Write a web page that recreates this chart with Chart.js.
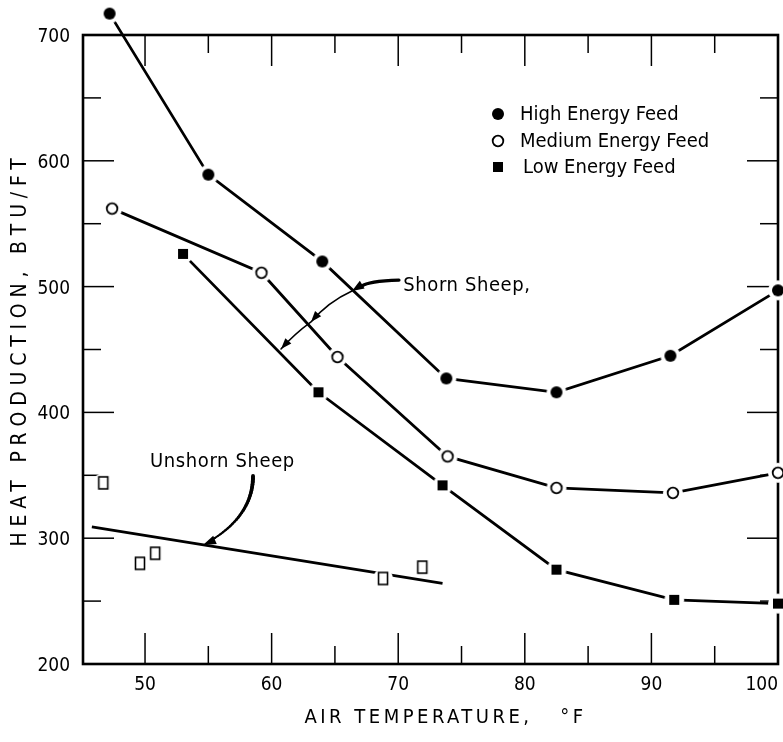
<!DOCTYPE html>
<html>
<head>
<meta charset="utf-8">
<script src="https://cdn.jsdelivr.net/npm/chart.js@4/dist/chart.umd.min.js"></script>
<style>
html,body{margin:0;padding:0;background:#fff;}
canvas{display:block;}
</style>
</head>
<body>
<canvas id="c" width="783" height="742"></canvas>
<script>
// ---------------- data ----------------
const highTemp = [47.2, 55.0, 64.0, 73.8, 82.5, 91.5, 100];
const highHeat = [717, 589, 520, 427, 416, 445, 497];

const mediumTemp = [47.4, 59.2, 65.2, 73.9, 82.5, 91.7, 100];
const mediumHeat = [562, 511, 444, 365, 340, 336, 352];

const lowTemp = [53.0, 63.7, 73.5, 82.5, 91.8, 100];
const lowHeat = [526, 416, 342, 275, 251, 248];

const unshornTemp = [46.7, 49.6, 50.8, 68.8, 71.9];
const unshornHeat = [344, 280, 288, 268, 277];

const unshornFitTemp = [45.8, 73.5];
const unshornFitHeat = [309, 264];

const seriesLabels = ['High Energy Feed', 'Medium Energy Feed', 'Low Energy Feed'];

const xTickValues = [50, 60, 70, 80, 90, 100];
const xMinorTicks = [55, 65, 75, 85, 95];
const yTickValues = [200, 300, 400, 500, 600, 700];
const yMinorTicks = [250, 350, 450, 550, 650];

const xTitle = 'AIR TEMPERATURE,   \u00B0F';
const yTitle = 'HEAT PRODUCTION, BTU/FT';

// annotation anchors (data coordinates)
const shornLabel = {text: 'Shorn Sheep,', x: 70.4, y: 500.5};
const shornArrow = [[70.06, 505.2], [67.61, 504.4], [66.35, 496.5], [64.45, 487.8], [63.11, 471.9], [61.77, 462.0], [60.74, 450.4]];
const unshornLabel = {text: 'Unshorn Sheep', x: 50.4, y: 360.5};
const unshornArrow = [[58.53, 349.4], [58.53, 326.3], [57.11, 308.1], [54.58, 294.6]];

// ---------------- styling ----------------
const COND = '"DejaVu Sans Condensed", "DejaVu Sans", sans-serif';

function makeMarker(kind) {
  const c = document.createElement('canvas');
  c.width = 22; c.height = 22;
  const g = c.getContext('2d');
  const cx = 11, cy = 11;
  g.fillStyle = '#fff';
  g.beginPath(); g.arc(cx, cy, 10, 0, Math.PI * 2); g.fill();
  g.fillStyle = '#000'; g.strokeStyle = '#000';
  if (kind === 'filledCircle') {
    g.beginPath(); g.arc(cx, cy, 6, 0, Math.PI * 2); g.fill();
  } else if (kind === 'openCircle') {
    g.lineWidth = 1.8;
    g.beginPath(); g.arc(cx, cy, 5.3, 0, Math.PI * 2); g.stroke();
  } else if (kind === 'filledSquare') {
    g.fillRect(cx - 5, cy - 5, 10, 10);
  } else if (kind === 'openSquare') {
    g.lineWidth = 1.6;
    g.strokeRect(cx - 4.5, cy - 6, 9, 12);
  }
  return c;
}
const mHigh = makeMarker('filledCircle');
const mMed = makeMarker('openCircle');
const mLow = makeMarker('filledSquare');
const mUn = makeMarker('openSquare');

function pts(xs, ys) { return xs.map((x, i) => ({x: x, y: ys[i]})); }

function lineSet(label, xs, ys, marker, order) {
  return {
    label: label,
    data: pts(xs, ys),
    showLine: true,
    borderColor: '#000',
    borderWidth: 2.8,
    backgroundColor: '#000',
    pointStyle: marker,
    pointRadius: 24,
    pointHoverRadius: 24,
    tension: 0,
    clip: false,
    order: order
  };
}

// ---------------- plugins ----------------
const framePlugin = {
  id: 'frame',
  beforeDatasetsDraw(chart) {
    const {ctx, chartArea: a, scales: {x, y}} = chart;
    ctx.save();
    ctx.strokeStyle = '#000';
    ctx.lineWidth = 2.6;
    ctx.lineCap = 'square';
    ctx.strokeRect(a.left, a.top, a.right - a.left, a.bottom - a.top);
    ctx.lineWidth = 1.5;
    ctx.lineCap = 'butt';
    const major = 31, minor = 18;
    const tick = (x1, y1, x2, y2) => { ctx.beginPath(); ctx.moveTo(x1, y1); ctx.lineTo(x2, y2); ctx.stroke(); };
    xTickValues.concat(xMinorTicks).forEach(v => {
      if (v >= x.max) return;
      const px = x.getPixelForValue(v);
      const len = xTickValues.includes(v) ? major : minor;
      tick(px, a.bottom, px, a.bottom - len);
      tick(px, a.top, px, a.top + len);
    });
    yTickValues.concat(yMinorTicks).forEach(v => {
      if (v <= y.min || v >= y.max) return;
      const py = y.getPixelForValue(v);
      const len = yTickValues.includes(v) ? major : minor;
      tick(a.left, py, a.left + len, py);
      tick(a.right, py, a.right - len, py);
    });
    ctx.restore();
  }
};

function spaceTitle(scale, spacing, dx) {
  if (!scale || scale.__spaced) return;
  const orig = scale.drawTitle;
  scale.drawTitle = function () {
    const c = this.ctx;
    c.save();
    c.letterSpacing = spacing;
    c.translate(dx, 0);
    orig.apply(this, arguments);
    c.restore();
  };
  scale.__spaced = true;
}
const spacedTitlePlugin = {
  id: 'spacedTitles',
  beforeDraw(chart) {
    spaceTitle(chart.scales.x, '3.5px', 15);
    spaceTitle(chart.scales.y, '5.8px', 0);
  }
};

function arrowHead(ctx, fx, fy, tx, ty, len, half) {
  const ang = Math.atan2(ty - fy, tx - fx);
  ctx.beginPath();
  ctx.moveTo(tx, ty);
  ctx.lineTo(tx - len * Math.cos(ang) + half * Math.sin(ang), ty - len * Math.sin(ang) - half * Math.cos(ang));
  ctx.lineTo(tx - len * Math.cos(ang) - half * Math.sin(ang), ty - len * Math.sin(ang) + half * Math.cos(ang));
  ctx.closePath();
  ctx.fill();
}

const annotationPlugin = {
  id: 'annotations',
  afterDatasetsDraw(chart) {
    const {ctx, scales: {x, y}} = chart;
    const P = p => [x.getPixelForValue(p[0]), y.getPixelForValue(p[1])];
    ctx.save();
    ctx.fillStyle = '#000';
    ctx.strokeStyle = '#000';
    ctx.font = '20px ' + COND;
    ctx.textBaseline = 'middle';
    ctx.textAlign = 'left';
    ctx.letterSpacing = '0.6px';
    ctx.fillText(shornLabel.text, x.getPixelForValue(shornLabel.x), y.getPixelForValue(shornLabel.y));
    ctx.fillText(unshornLabel.text, x.getPixelForValue(unshornLabel.x), y.getPixelForValue(unshornLabel.y));
    ctx.letterSpacing = '0px';

    // Shorn sheep arrow: thick lead then thin curve with three heads
    const s = shornArrow.map(P);
    ctx.lineCap = 'round';
    ctx.lineWidth = 3.2;
    ctx.beginPath(); ctx.moveTo(s[0][0], s[0][1]); ctx.quadraticCurveTo(s[1][0], s[1][1], (s[1][0] + s[2][0]) / 2 + 2, (s[1][1] + s[2][1]) / 2); ctx.stroke();
    arrowHead(ctx, s[1][0], s[1][1], s[2][0], s[2][1], 12, 4.5);
    ctx.lineWidth = 1.5;
    ctx.beginPath(); ctx.moveTo(s[2][0], s[2][1]); ctx.quadraticCurveTo(s[3][0], s[3][1], s[4][0], s[4][1]);
    ctx.quadraticCurveTo(s[5][0], s[5][1], s[6][0], s[6][1]); ctx.stroke();
    arrowHead(ctx, s[3][0], s[3][1], s[4][0], s[4][1], 11, 4);
    arrowHead(ctx, s[5][0], s[5][1], s[6][0], s[6][1], 11, 4);

    // Unshorn sheep arrow: tapered cubic curve
    const u = unshornArrow.map(P);
    const N = 30;
    let prev = u[0];
    for (let i = 1; i <= N; i++) {
      const t = i / N, mt = 1 - t;
      const px = mt * mt * mt * u[0][0] + 3 * mt * mt * t * u[1][0] + 3 * mt * t * t * u[2][0] + t * t * t * u[3][0];
      const py = mt * mt * mt * u[0][1] + 3 * mt * mt * t * u[1][1] + 3 * mt * t * t * u[2][1] + t * t * t * u[3][1];
      if (t < 0.92) {
        ctx.lineWidth = 4 - 2.4 * t;
        ctx.beginPath(); ctx.moveTo(prev[0], prev[1]); ctx.lineTo(px, py); ctx.stroke();
      }
      prev = [px, py];
    }
    arrowHead(ctx, u[2][0] + 0.5 * (u[3][0] - u[2][0]), u[2][1] + 0.6 * (u[3][1] - u[2][1]), u[3][0], u[3][1], 13, 4.5);
    ctx.restore();
  }
};

const legendPlugin = {
  id: 'customLegend',
  afterDraw(chart) {
    const {ctx} = chart;
    const markers = [mHigh, mMed, mLow];
    const rows = [114, 141, 167];
    ctx.save();
    ctx.fillStyle = '#000';
    ctx.font = '20px ' + COND;
    ctx.textBaseline = 'middle';
    ctx.textAlign = 'left';
    seriesLabels.forEach((lbl, i) => {
      const m = markers[i];
      ctx.drawImage(m, 498 - m.width / 2, rows[i] - m.height / 2);
      ctx.fillText(lbl, i === 2 ? 523 : 520, rows[i] + 1);
    });
    ctx.restore();
  }
};

// ---------------- chart ----------------
const chart = new Chart(document.getElementById('c'), {
  type: 'scatter',
  data: {
    datasets: [
      lineSet(seriesLabels[0], highTemp, highHeat, mHigh, 1),
      lineSet(seriesLabels[1], mediumTemp, mediumHeat, mMed, 2),
      lineSet(seriesLabels[2], lowTemp, lowHeat, mLow, 3),
      {
        label: 'Unshorn Sheep',
        data: pts(unshornTemp, unshornHeat),
        showLine: false,
        pointStyle: mUn,
        pointRadius: 24,
        clip: false,
        order: 4
      },
      {
        label: 'Unshorn Sheep trend',
        data: pts(unshornFitTemp, unshornFitHeat),
        showLine: true,
        borderColor: '#000',
        borderWidth: 2.8,
        pointRadius: 0,
        clip: false,
        order: 5
      }
    ]
  },
  options: {
    responsive: false,
    animation: false,
    devicePixelRatio: 1,
    layout: {autoPadding: false, padding: {top: 35, right: 5, left: 0, bottom: 0}},
    plugins: {legend: {display: false}, tooltip: {enabled: false}},
    scales: {
      x: {
        type: 'linear',
        min: 45.1,
        max: 100,
        afterBuildTicks: s => { s.ticks = [{value: s.min}].concat(xTickValues.map(v => ({value: v}))); },
        afterFit: s => { s.height = 78; s.paddingLeft = 0; s.paddingRight = 0; },
        grid: {display: false, drawTicks: false},
        border: {display: false},
        ticks: {
          align: 'inner',
          autoSkip: false,
          maxRotation: 0,
          padding: 10,
          color: '#000',
          font: {family: COND, size: 19},
          callback: v => xTickValues.includes(v) ? String(v) : ''
        },
        title: {
          display: true,
          text: xTitle,
          color: '#000',
          font: {family: COND, size: 20},
          padding: {top: 0, bottom: 12}
        }
      },
      y: {
        type: 'linear',
        min: 200,
        max: 700,
        afterBuildTicks: s => { s.ticks = yTickValues.map(v => ({value: v})); },
        afterFit: s => { s.width = 83; s.paddingTop = 0; s.paddingBottom = 0; },
        grid: {display: false, drawTicks: false},
        border: {display: false},
        ticks: {
          padding: 13,
          labelOffset: 2,
          color: '#000',
          font: {family: COND, size: 19},
          callback: v => String(v)
        },
        title: {
          display: true,
          text: yTitle,
          color: '#000',
          font: {family: COND, size: 21},
          padding: {top: 8, bottom: 0}
        }
      }
    }
  },
  plugins: [spacedTitlePlugin, framePlugin, annotationPlugin, legendPlugin]
});
chart.draw();
</script>
</body>
</html>
